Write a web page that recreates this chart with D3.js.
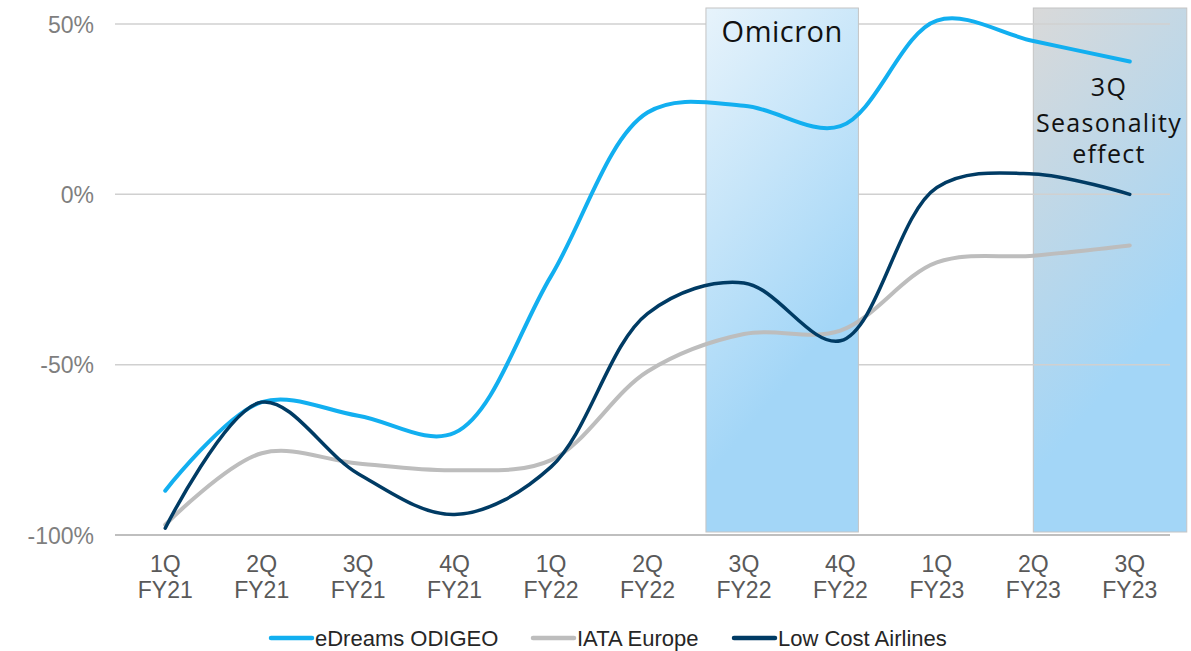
<!DOCTYPE html>
<html>
<head>
<meta charset="utf-8">
<script src="https://cdn.jsdelivr.net/npm/d3@7"></script>
<style>
  html, body { margin: 0; padding: 0; background: #ffffff; }
  svg { display: block; }
</style>
</head>
<body>
<svg id="chart" width="1191" height="651"></svg>
<script>
// Quarter labels (two lines each)
const quarters = ["1Q", "2Q", "3Q", "4Q", "1Q", "2Q", "3Q", "4Q", "1Q", "2Q", "3Q"];
const fiscalYears = ["FY21", "FY21", "FY21", "FY21", "FY22", "FY22", "FY22", "FY22", "FY23", "FY23", "FY23"];
const categories = quarters.map((q, i) => q + " " + fiscalYears[i]);

// Change vs. 2019 (%)
const edreams = [-87, -61, -65, -70, -24, 24, 26, 20, 51, 45, 39];
const iataEurope = [-97, -76, -79, -81, -78, -52, -41, -40, -20, -18, -15];
const lowCost = [-98, -61, -82, -94, -80, -35, -26, -43, 2, 6, 0];

const yTicks = [-100, -50, 0, 50];

// Highlighted periods
const periods = [
  { from: "3Q FY22", to: "4Q FY22", lines: ["Omicron"] },
  { from: "2Q FY23", to: "3Q FY23", lines: ["3Q", "Seasonality", "effect"] }
];

const seriesList = [
  { name: "eDreams ODIGEO", values: edreams, color: "#12aff0", width: 4 },
  { name: "IATA Europe", values: iataEurope, color: "#bdbdbd", width: 4 },
  { name: "Low Cost Airlines", values: lowCost, color: "#003b64", width: 3.5 }
];

const svg = d3.select("#chart");
const plotLeft = 115, plotRight = 1170;
const labelFont = "'Liberation Sans', Arial, sans-serif";
const noteFont = "'Open Sans', sans-serif";

const x = d3.scaleBand().domain(categories).range([117, 1178]);
const cx = c => x(c) + x.bandwidth() / 2;
const y = d3.scaleLinear().domain([-100, 50]).range([535, 24]);

// Gradients for highlighted periods
const defs = svg.append("defs");
function gradient(id, topColor) {
  const g = defs.append("linearGradient").attr("id", id)
    .attr("x1", 0).attr("y1", 0).attr("x2", 0.35).attr("y2", 1);
  g.append("stop").attr("offset", 0).attr("stop-color", topColor);
  g.append("stop").attr("offset", 0.8).attr("stop-color", "#a3d6f7");
  g.append("stop").attr("offset", 1).attr("stop-color", "#a3d6f7");
}
gradient("grad-omicron", "#e7f3fb");
gradient("grad-season", "#d9d9d9");

const rectTop = 8, rectBottom = 532;

// Seasonality box sits behind the gridlines
const season = periods[1];
const sr = { x0: cx(season.from), x1: cx(season.to) + 57 };
svg.append("rect")
  .attr("x", sr.x0).attr("y", rectTop)
  .attr("width", sr.x1 - sr.x0).attr("height", rectBottom - rectTop)
  .attr("fill", "url(#grad-season)")
  .attr("stroke", "#c4c4c4").attr("stroke-width", 1);

// Gridlines
svg.append("g").selectAll("line")
  .data(yTicks)
  .join("line")
  .attr("x1", plotLeft).attr("x2", plotRight)
  .attr("y1", d => y(d)).attr("y2", d => y(d))
  .attr("stroke", d => d === -100 ? "#bfbfbf" : "#d0d0d0")
  .attr("stroke-width", d => d === -100 ? 2 : 1.5);

// Omicron box drawn over the gridlines
const omi = periods[0];
const or = { x0: cx(omi.from) - 38, x1: cx(omi.to) + 18 };
svg.append("rect")
  .attr("x", or.x0).attr("y", rectTop)
  .attr("width", or.x1 - or.x0).attr("height", rectBottom - rectTop)
  .attr("fill", "url(#grad-omicron)")
  .attr("stroke", "#c4c4c4").attr("stroke-width", 1);

// Period labels
svg.append("text")
  .attr("x", (or.x0 + or.x1) / 2).attr("y", 42)
  .attr("text-anchor", "middle")
  .attr("font-family", noteFont)
  .attr("font-size", 29).attr("fill", "#111")
  .attr("letter-spacing", 0.5)
  .text(omi.lines[0]);
const seasonText = svg.append("text")
  .attr("text-anchor", "middle")
  .attr("font-family", noteFont)
  .attr("font-size", 25).attr("fill", "#111")
  .attr("letter-spacing", 1.3);
const seasonBaselines = [96, 132, 163];
season.lines.forEach((t, i) => {
  seasonText.append("tspan")
    .attr("x", 1109)
    .attr("y", seasonBaselines[i])
    .text(t);
});

// Y axis
const yAxis = svg.append("g")
  .attr("transform", `translate(94,0)`)
  .call(d3.axisLeft(y).tickValues(yTicks).tickSize(0).tickFormat(d => d + "%"));
yAxis.select(".domain").remove();
yAxis.selectAll("text")
  .attr("font-family", labelFont)
  .attr("font-size", 23).attr("fill", "#7f7f7f")
  .attr("dy", "0.35em").attr("x", 0);

// X axis (two-line labels)
const xAxis = svg.append("g")
  .attr("transform", `translate(0,${y(-100)})`)
  .call(d3.axisBottom(x).tickSize(0).tickFormat(() => ""));
xAxis.select(".domain").remove();
xAxis.selectAll(".tick text").each(function(d, i) {
  const t = d3.select(this)
    .attr("font-family", labelFont)
    .attr("font-size", 23).attr("fill", "#595959")
    .attr("y", 0).attr("dy", null);
  t.append("tspan").attr("x", 0).attr("y", 37).text(quarters[i]);
  t.append("tspan").attr("x", 0).attr("y", 63).text(fiscalYears[i]);
});

// Series lines
const line = d3.line()
  .x((d, i) => cx(categories[i]))
  .y(d => y(d))
  .curve(d3.curveCatmullRom.alpha(0.5));

svg.append("g").selectAll("path")
  .data(seriesList)
  .join("path")
  .attr("d", s => line(s.values))
  .attr("fill", "none")
  .attr("stroke", s => s.color)
  .attr("stroke-width", s => s.width)
  .attr("stroke-linecap", "round")
  .attr("stroke-linejoin", "round");

// Legend
const legendX = [270, 532, 733];
const legend = svg.append("g").selectAll("g")
  .data(seriesList)
  .join("g")
  .attr("transform", (s, i) => `translate(${legendX[i]},638)`);
legend.append("line")
  .attr("x1", 1).attr("x2", 42).attr("y1", 0).attr("y2", 0)
  .attr("stroke", s => s.color).attr("stroke-width", 4.5)
  .attr("stroke-linecap", "round");
legend.append("text")
  .attr("x", 45).attr("y", 0).attr("dy", "0.35em")
  .attr("font-family", labelFont)
  .attr("font-size", 22).attr("fill", "#262626")
  .text(s => s.name);
</script>
</body>
</html>
